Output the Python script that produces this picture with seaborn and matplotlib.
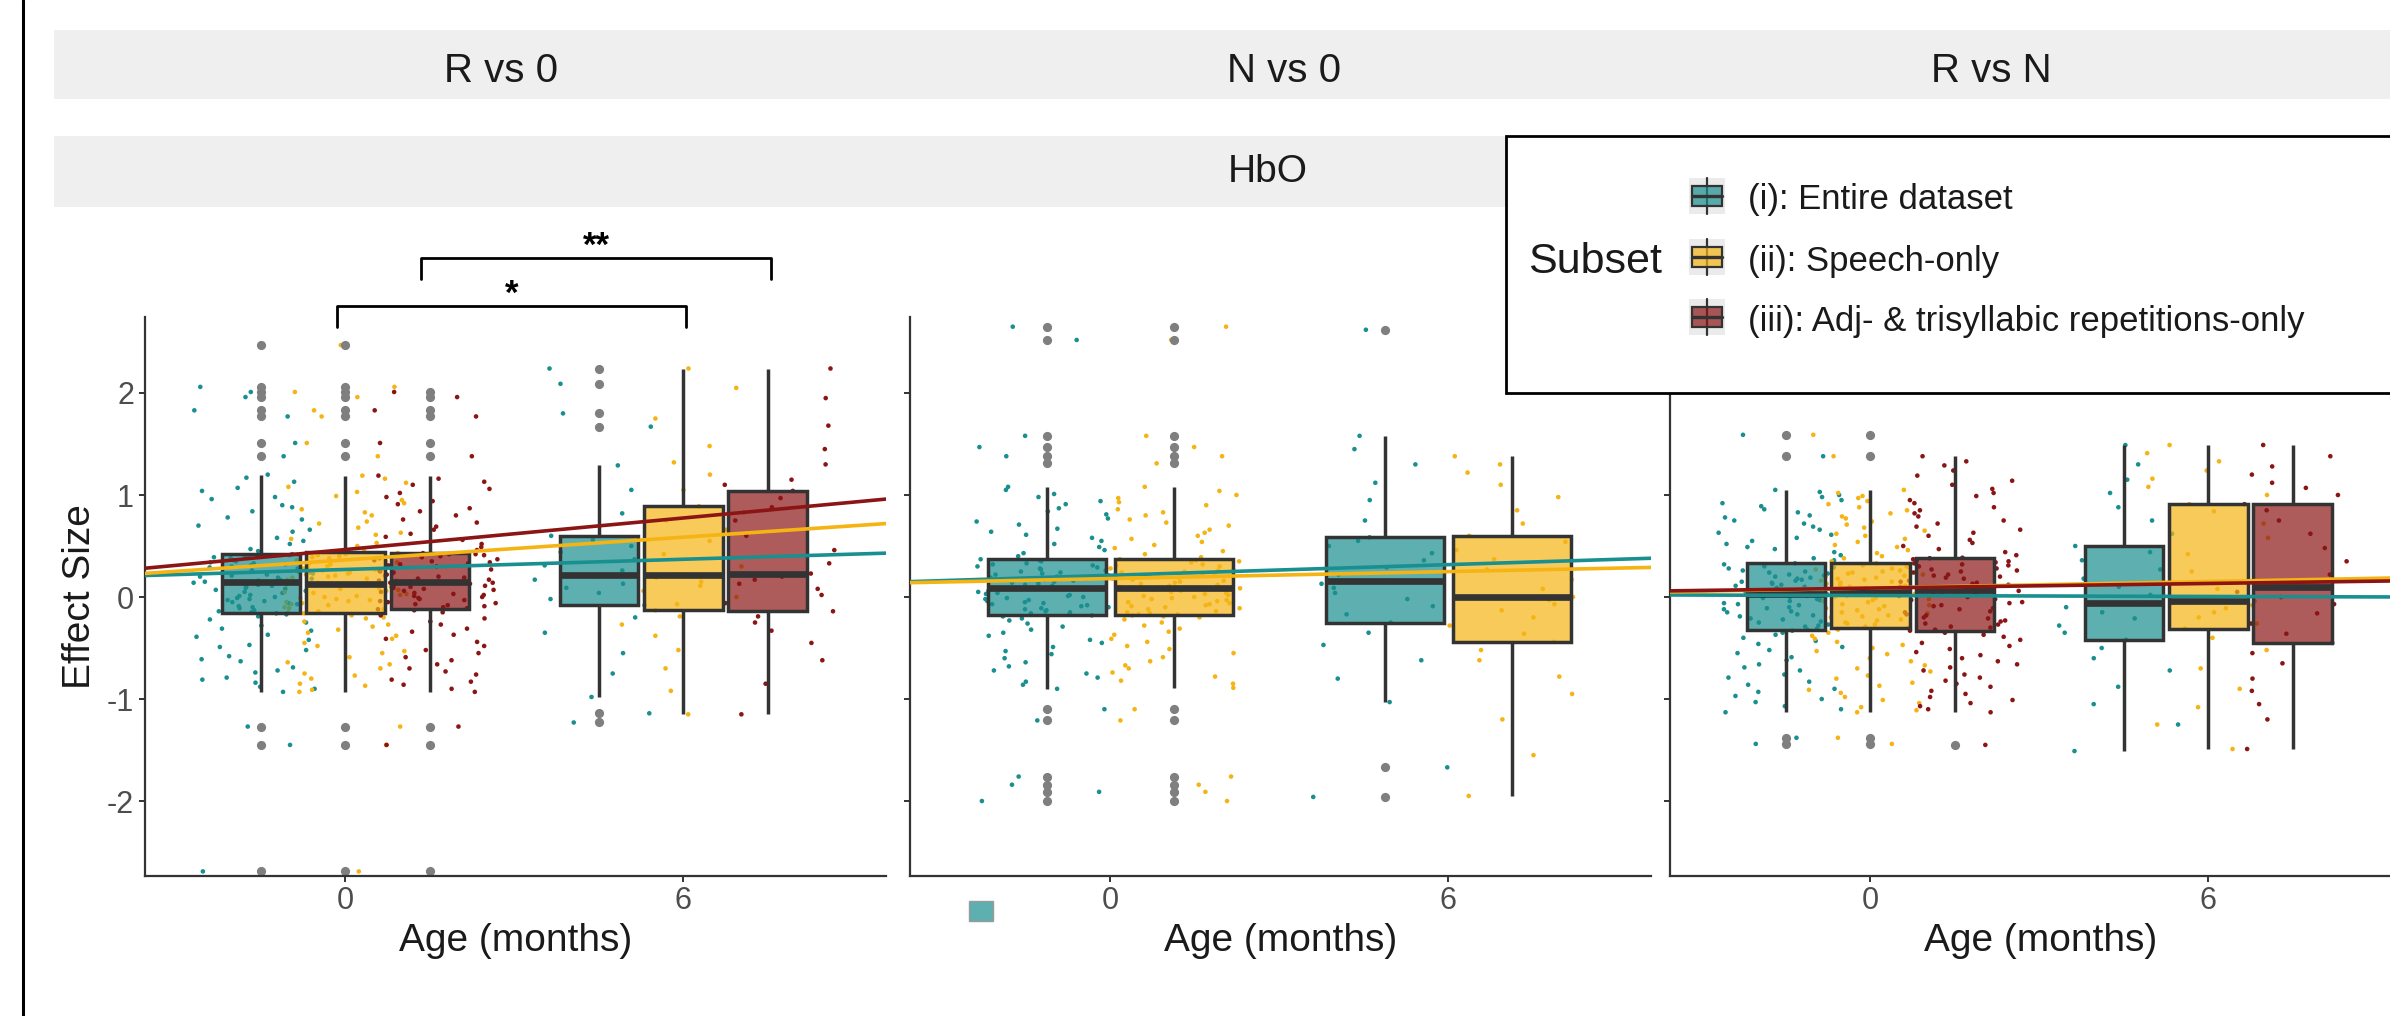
import numpy as np
import pandas as pd
import matplotlib
matplotlib.use("Agg")
import matplotlib.pyplot as plt
import matplotlib.colors as mcolors
from matplotlib.patches import Rectangle
from matplotlib.lines import Line2D
import seaborn as sns

sns.set_theme(style="ticks")
plt.rcParams["font.family"] = ["Liberation Sans", "DejaVu Sans"]
plt.rcParams["axes.unicode_minus"] = False

# ------------------------------------------------------------------ data
subsets = ["(i): Entire dataset", "(ii): Speech-only",
           "(iii): Adj- & trisyllabic repetitions-only"]
subset_colors = ["#1A8F8F", "#F5B414", "#8B1515"]
contrasts = ["R vs 0", "N vs 0", "R vs N"]
signal_label = "HbO"
xtick_values = [0, 6]
ytick_values = [-2, -1, 0, 1, 2]

# R vs 0 -- effect sizes per subset and age (months)
rv0_entire_0 = [-2.69, -1.45, -1.27, -0.93,
                -0.90, -0.88, -0.84, -0.81, -0.79, -0.74, -0.72, -0.69, -0.63, -0.61, -0.58, -0.52,
                -0.49, -0.47, -0.42, -0.39, -0.37, -0.33, -0.31, -0.28, -0.25, -0.22, -0.19, -0.17,
                -0.16,
                -0.15, -0.14, -0.13, -0.11, -0.10, -0.09, -0.07, -0.06, -0.05, -0.04, -0.03, -0.02,
                -0.01, 0.00, 0.01, 0.02, 0.04, 0.05, 0.06, 0.07, 0.08, 0.09, 0.10, 0.11, 0.12, 0.13,
                0.14,
                0.15,
                0.16, 0.16, 0.17, 0.18, 0.19, 0.20, 0.21, 0.22, 0.23, 0.23, 0.24, 0.25, 0.26, 0.28,
                0.29, 0.30, 0.31, 0.32, 0.33, 0.34, 0.35, 0.36, 0.38, 0.39, 0.40, 0.41, 0.41,
                0.42,
                0.45, 0.47, 0.52, 0.55, 0.58, 0.64, 0.66, 0.70, 0.76, 0.78, 0.84, 0.88, 0.90, 0.96,
                0.98, 1.04, 1.07, 1.13, 1.17,
                1.20,
                1.38, 1.51, 1.77, 1.83, 1.96, 2.01, 2.06, 2.47]
rv0_speech_0 = [-2.69, -1.45, -1.27, -0.93,
                -0.91, -0.87, -0.85, -0.80, -0.77, -0.75, -0.70, -0.66, -0.64, -0.59, -0.55, -0.53,
                -0.48, -0.45, -0.41, -0.38, -0.35, -0.32, -0.29, -0.27, -0.24, -0.21, -0.20, -0.18,
                -0.16,
                -0.15, -0.14, -0.12, -0.11, -0.10, -0.08, -0.07, -0.06, -0.05, -0.04, -0.03, -0.02,
                -0.01, 0.00, 0.01, 0.02, 0.03, 0.04, 0.05, 0.06, 0.07, 0.08, 0.09, 0.10, 0.11, 0.12,
                0.12,
                0.13,
                0.14, 0.15, 0.16, 0.17, 0.18, 0.19, 0.20, 0.21, 0.22, 0.23, 0.24, 0.26, 0.27, 0.28,
                0.29, 0.30, 0.32, 0.33, 0.34, 0.35, 0.36, 0.38, 0.39, 0.40, 0.41, 0.42, 0.43,
                0.44,
                0.47, 0.50, 0.53, 0.57, 0.61, 0.63, 0.68, 0.72, 0.74, 0.80, 0.83, 0.86, 0.92, 0.95,
                0.99, 1.03, 1.08, 1.12, 1.16,
                1.19,
                1.38, 1.51, 1.77, 1.83, 1.96, 2.01, 2.06, 2.47]
rv0_adj_0 = [-2.69, -1.45, -1.27, -0.93,
             -0.90, -0.86, -0.83, -0.81, -0.76, -0.73, -0.70, -0.66, -0.62, -0.59, -0.55, -0.52,
             -0.48, -0.44, -0.41, -0.37, -0.34, -0.31, -0.27, -0.24, -0.21, -0.18, -0.15, -0.13,
             -0.12,
             -0.11, -0.10, -0.09, -0.08, -0.07, -0.06, -0.05, -0.04, -0.03, -0.02, -0.01, 0.00,
             0.01, 0.02, 0.03, 0.04, 0.05, 0.06, 0.07, 0.08, 0.09, 0.10, 0.11, 0.12, 0.13, 0.14,
             0.14,
             0.15,
             0.16, 0.17, 0.18, 0.19, 0.20, 0.21, 0.22, 0.23, 0.24, 0.25, 0.26, 0.27, 0.28, 0.30,
             0.31, 0.32, 0.33, 0.34, 0.35, 0.36, 0.37, 0.38, 0.39, 0.40, 0.41, 0.42, 0.42,
             0.43,
             0.46, 0.49, 0.52, 0.56, 0.59, 0.62, 0.66, 0.69, 0.73, 0.76, 0.80, 0.84, 0.87, 0.91,
             0.94, 0.98, 1.02, 1.06, 1.10, 1.13, 1.16,
             1.19,
             1.38, 1.51, 1.77, 1.83, 1.96, 2.01]
rv0_entire_6 = [-1.23, -1.14, -0.98, -0.75, -0.55, -0.35, -0.20, -0.08, -0.02, 0.04, 0.09, 0.13,
                0.17, 0.20, 0.22, 0.26, 0.31, 0.37, 0.44, 0.50, 0.56, 0.60, 0.82, 1.05, 1.29, 1.67,
                1.80, 2.09, 2.24]
rv0_speech_6 = [-1.15, -0.92, -0.70, -0.52, -0.38, -0.27, -0.19, -0.13, -0.07, 0.00, 0.06, 0.11,
                0.15, 0.19, 0.22, 0.30, 0.42, 0.55, 0.66, 0.75, 0.83, 0.89, 1.05, 1.20, 1.32, 1.48,
                1.75, 2.05, 2.24]
rv0_adj_6 = [-1.15, -0.85, -0.62, -0.45, -0.33, -0.25, -0.19, -0.14, -0.06, 0.02, 0.08, 0.13,
             0.17, 0.20, 0.23, 0.33, 0.46, 0.60, 0.75, 0.88, 0.97, 1.04, 1.10, 1.15, 1.30, 1.45,
             1.68, 1.95, 2.24]

# N vs 0
nv0_entire_0 = [-2.00, -1.91, -1.84, -1.76, -1.21, -1.10, -0.90,
                -0.86, -0.83, -0.79, -0.75, -0.72, -0.68, -0.64, -0.60, -0.56, -0.53, -0.49, -0.45,
                -0.42, -0.38, -0.35, -0.32, -0.29, -0.26, -0.23, -0.21, -0.19,
                -0.18,
                -0.17, -0.16, -0.15, -0.14, -0.13, -0.12, -0.11, -0.10, -0.09, -0.08, -0.07, -0.06,
                -0.05, -0.04, -0.03, -0.02, -0.01, 0.00, 0.01, 0.02, 0.03, 0.04, 0.05, 0.06, 0.07,
                0.08, 0.08,
                0.085,
                0.09, 0.10, 0.11, 0.12, 0.13, 0.14, 0.15, 0.16, 0.17, 0.18, 0.19, 0.20, 0.21, 0.22,
                0.23, 0.24, 0.25, 0.26, 0.27, 0.28, 0.29, 0.30, 0.31, 0.32, 0.33, 0.35, 0.36,
                0.37,
                0.40, 0.43, 0.46, 0.49, 0.52, 0.55, 0.58, 0.61, 0.64, 0.67, 0.71, 0.74, 0.77, 0.81,
                0.84, 0.87, 0.91, 0.94, 0.98, 1.01, 1.05,
                1.08,
                1.31, 1.38, 1.47, 1.58, 2.52, 2.65]
nv0_speech_0 = [-2.00, -1.91, -1.84, -1.76, -1.21, -1.10, -0.89,
                -0.85, -0.82, -0.78, -0.74, -0.70, -0.67, -0.63, -0.59, -0.55, -0.51, -0.48, -0.44,
                -0.41, -0.37, -0.34, -0.31, -0.28, -0.25, -0.22, -0.20, -0.19,
                -0.18,
                -0.17, -0.17, -0.16, -0.15, -0.14, -0.12, -0.11, -0.10, -0.09, -0.08, -0.07, -0.06,
                -0.05, -0.04, -0.03, -0.02, -0.01, 0.00, 0.01, 0.02, 0.03, 0.04, 0.05, 0.06, 0.07,
                0.07, 0.08,
                0.085,
                0.09, 0.10, 0.10, 0.11, 0.12, 0.13, 0.14, 0.15, 0.16, 0.17, 0.18, 0.19, 0.20, 0.21,
                0.22, 0.23, 0.24, 0.25, 0.26, 0.27, 0.28, 0.30, 0.31, 0.32, 0.34, 0.35, 0.36,
                0.37,
                0.39, 0.42, 0.45, 0.48, 0.51, 0.54, 0.57, 0.60, 0.63, 0.66, 0.70, 0.73, 0.76, 0.80,
                0.83, 0.86, 0.90, 0.93, 0.97, 1.00, 1.04,
                1.08,
                1.31, 1.38, 1.47, 1.58, 2.52, 2.65]
nv0_entire_6 = [-1.96, -1.67, -1.03, -0.80, -0.62, -0.47, -0.35, -0.25, -0.17, -0.09, -0.02, 0.04,
                0.09, 0.13, 0.16, 0.22, 0.29, 0.36, 0.43, 0.50, 0.55, 0.585, 0.75, 0.95, 1.12, 1.30,
                1.45, 1.58, 2.62]
nv0_speech_6 = [-1.95, -1.55, -1.20, -0.95, -0.78, -0.62, -0.52, -0.44, -0.36, -0.28, -0.20, -0.13,
                -0.07, -0.03, 0.00, 0.08, 0.17, 0.27, 0.37, 0.46, 0.54, 0.60, 0.72, 0.85, 0.98, 1.10,
                1.22, 1.30, 1.38]

# R vs N
rvn_entire_0 = [-1.44, -1.38, -1.13,
                -1.10, -1.07, -1.03, -1.00, -0.97, -0.93, -0.90, -0.86, -0.83, -0.79, -0.76, -0.72,
                -0.69, -0.66, -0.62, -0.59, -0.55, -0.52, -0.49, -0.46, -0.43, -0.40, -0.37, -0.35,
                -0.33,
                -0.32,
                -0.31, -0.29, -0.28, -0.27, -0.25, -0.24, -0.22, -0.21, -0.19, -0.18, -0.17, -0.15,
                -0.14, -0.12, -0.11, -0.10, -0.08, -0.07, -0.06, -0.04, -0.03, -0.02, -0.01, 0.00,
                0.01, 0.02, 0.02,
                0.03,
                0.04, 0.05, 0.06, 0.07, 0.08, 0.09, 0.10, 0.11, 0.12, 0.13, 0.14, 0.15, 0.16, 0.17,
                0.18, 0.19, 0.20, 0.21, 0.22, 0.23, 0.24, 0.25, 0.26, 0.28, 0.29, 0.30, 0.32,
                0.33,
                0.36, 0.38, 0.41, 0.44, 0.47, 0.49, 0.52, 0.55, 0.58, 0.61, 0.63, 0.66, 0.69, 0.72,
                0.75, 0.78, 0.80, 0.83, 0.86, 0.89, 0.92, 0.95, 0.98, 1.00, 1.03,
                1.05,
                1.38, 1.59]
rvn_speech_0 = [-1.44, -1.38, -1.13,
                -1.11, -1.08, -1.04, -1.01, -0.98, -0.94, -0.91, -0.87, -0.84, -0.80, -0.77, -0.73,
                -0.70, -0.67, -0.63, -0.60, -0.56, -0.53, -0.50, -0.47, -0.44, -0.41, -0.38, -0.35,
                -0.32,
                -0.30,
                -0.29, -0.27, -0.26, -0.25, -0.23, -0.22, -0.20, -0.19, -0.18, -0.16, -0.15, -0.13,
                -0.12, -0.11, -0.09, -0.08, -0.07, -0.05, -0.04, -0.03, -0.02, -0.01, 0.00, 0.01,
                0.02, 0.03, 0.04,
                0.05,
                0.06, 0.07, 0.08, 0.09, 0.10, 0.11, 0.12, 0.13, 0.14, 0.15, 0.16, 0.17, 0.18, 0.19,
                0.20, 0.21, 0.22, 0.23, 0.24, 0.25, 0.26, 0.27, 0.28, 0.29, 0.30, 0.31, 0.32,
                0.33,
                0.35, 0.38, 0.40, 0.43, 0.46, 0.49, 0.51, 0.54, 0.57, 0.60, 0.62, 0.65, 0.68, 0.71,
                0.74, 0.77, 0.79, 0.82, 0.85, 0.88, 0.91, 0.94, 0.97, 0.99, 1.02,
                1.05,
                1.38, 1.59]
rvn_adj_0 = [-1.45, -1.13,
             -1.10, -1.07, -1.04, -1.01, -0.98, -0.95, -0.92, -0.88, -0.85, -0.82, -0.79, -0.76,
             -0.72, -0.69, -0.66, -0.63, -0.60, -0.57, -0.54, -0.51, -0.48, -0.45, -0.42, -0.39,
             -0.37, -0.35,
             -0.33,
             -0.32, -0.30, -0.29, -0.27, -0.26, -0.24, -0.23, -0.21, -0.20, -0.18, -0.17, -0.15,
             -0.14, -0.12, -0.11, -0.09, -0.08, -0.06, -0.05, -0.03, -0.02, 0.00, 0.01, 0.03,
             0.04, 0.05, 0.06,
             0.07,
             0.08, 0.09, 0.10, 0.12, 0.13, 0.14, 0.15, 0.16, 0.18, 0.19, 0.20, 0.21, 0.22, 0.24,
             0.25, 0.26, 0.27, 0.28, 0.30, 0.31, 0.32, 0.33, 0.34, 0.35, 0.36, 0.37, 0.38,
             0.385,
             0.41, 0.44, 0.47, 0.50, 0.53, 0.56, 0.60, 0.63, 0.66, 0.69, 0.72, 0.75, 0.79, 0.82,
             0.85, 0.88, 0.92, 0.95, 0.99, 1.02, 1.06, 1.10, 1.14, 1.19, 1.24, 1.29, 1.33,
             1.38]
rvn_entire_6 = [-1.51, -1.25, -1.05, -0.88, -0.72, -0.60, -0.50, -0.42, -0.35, -0.28, -0.21, -0.15,
                -0.10, -0.07, -0.055, 0.02, 0.10, 0.18, 0.27, 0.36, 0.44, 0.50, 0.62, 0.75, 0.88,
                1.02, 1.15, 1.30, 1.49]
rvn_speech_6 = [-1.49, -1.25, -1.08, -0.90, -0.70, -0.52, -0.40, -0.31, -0.26, -0.20, -0.15, -0.11,
                -0.08, -0.06, -0.04, 0.08, 0.25, 0.42, 0.58, 0.72, 0.84, 0.91, 1.00, 1.08, 1.16,
                1.24, 1.33, 1.41, 1.49]
rvn_adj_6 = [-1.49, -1.20, -1.05, -0.92, -0.80, -0.65, -0.55, -0.45, -0.36, -0.26, -0.16, -0.07,
             0.00, 0.05, 0.10, 0.22, 0.35, 0.48, 0.62, 0.75, 0.85, 0.91, 1.00, 1.07, 1.12, 1.20,
             1.28, 1.38, 1.49]

# fitted linear trends (value at the two ends of the age range)
fit_age = [-3.6, 9.6]
rv0_fit_entire = [0.21, 0.43]
rv0_fit_speech = [0.23, 0.72]
rv0_fit_adj = [0.28, 0.96]
nv0_fit_entire = [0.15, 0.38]
nv0_fit_speech = [0.14, 0.29]
rvn_fit_entire = [0.02, 0.00]
rvn_fit_speech = [0.05, 0.19]
rvn_fit_adj = [0.06, 0.16]

# significance annotations (R vs 0 panel)
sig_pairs = [(-0.15, 6.05), (1.35, 7.55)]
sig_heights = [2.85, 3.32]
sig_labels = ["*", "**"]

# ------------------------------------------------------------------ helpers
W, H = 2390, 1016


def fx(px):
    return px / W


def fy(py):
    return 1 - py / H


def long_df(groups):
    rows = []
    for subset, age, vals in groups:
        for v in vals:
            rows.append((subset, age, v))
    return pd.DataFrame(rows, columns=["Subset", "Age", "Effect"])


def fit_df(fits):
    rows = []
    for subset, vals in fits:
        for a, v in zip(fit_age, vals):
            rows.append((subset, a, v))
    return pd.DataFrame(rows, columns=["Subset", "Age", "Fit"])


S1, S2, S3 = subsets
panels = [
    (long_df([(S1, 0, rv0_entire_0), (S2, 0, rv0_speech_0), (S3, 0, rv0_adj_0),
              (S1, 6, rv0_entire_6), (S2, 6, rv0_speech_6), (S3, 6, rv0_adj_6)]),
     fit_df([(S1, rv0_fit_entire), (S2, rv0_fit_speech), (S3, rv0_fit_adj)]),
     [S1, S2, S3], 0.55),
    (long_df([(S1, 0, nv0_entire_0), (S2, 0, nv0_speech_0),
              (S1, 6, nv0_entire_6), (S2, 6, nv0_speech_6)]),
     fit_df([(S1, nv0_fit_entire), (S2, nv0_fit_speech)]),
     [S1, S2], 0.40),
    (long_df([(S1, 0, rvn_entire_0), (S2, 0, rvn_speech_0), (S3, 0, rvn_adj_0),
              (S1, 6, rvn_entire_6), (S2, 6, rvn_speech_6), (S3, 6, rvn_adj_6)]),
     fit_df([(S1, rvn_fit_entire), (S2, rvn_fit_speech), (S3, rvn_fit_adj)]),
     [S1, S2, S3], 0.55),
]

color_map = dict(zip(subsets, subset_colors))
BOX_ALPHA = 0.7
EDGE = "#333333"

np.random.seed(7)
fig = plt.figure(figsize=(W / 100, H / 100), dpi=100)
fig.patch.set_facecolor("white")

# strips
for top, bot in [(30, 99), (136, 207)]:
    fig.add_artist(Rectangle((fx(54), fy(bot)), fx(2400 - 54), (bot - top) / H,
                             transform=fig.transFigure, facecolor="#EFEFEF",
                             edgecolor="none", zorder=1))
for lab, cx in zip(contrasts, [501, 1284, 1991]):
    fig.text(fx(cx), fy(82), lab, ha="center", va="baseline", fontsize=29, color="#1a1a1a", zorder=2)
fig.text(fx(1268), fy(182), signal_label, ha="center", va="baseline", fontsize=28,
         color="#1a1a1a", zorder=2)

# panels
panel_left = [145, 910, 1670]
ax_top, ax_bot, ax_w = 317, 876, 741
axes = []
for i, (df, fdf, present, jit) in enumerate(panels):
    ax = fig.add_axes([fx(panel_left[i]), fy(ax_bot), ax_w / W, (ax_bot - ax_top) / H])
    pal = {s: color_map[s] for s in present}
    sns.stripplot(data=df, x="Age", y="Effect", hue="Subset", hue_order=present, palette=pal,
                  native_scale=True, dodge=True, jitter=jit, size=3.3, linewidth=0,
                  legend=False, ax=ax, zorder=1)
    n0 = len(ax.patches)
    sns.boxplot(data=df, x="Age", y="Effect", hue="Subset", hue_order=present, palette=pal,
                native_scale=True, width=0.75, gap=0.07, saturation=1, linecolor=EDGE,
                linewidth=2.5, fliersize=5.6,
                flierprops=dict(marker="o", markerfacecolor="#7F7F7F", markeredgecolor="#7F7F7F"),
                medianprops=dict(linewidth=4.8, color=EDGE),
                showcaps=False, legend=False, ax=ax)
    for p in ax.patches[n0:]:
        p.set_facecolor(mcolors.to_rgba(p.get_facecolor(), BOX_ALPHA))
    sns.lineplot(data=fdf, x="Age", y="Fit", hue="Subset", hue_order=present, palette=pal,
                 linewidth=2.6, legend=False, ax=ax, zorder=5)

    ax.set_xlim(-3.56, 9.6)
    ax.set_ylim(-2.735, 2.745)
    ax.set_xticks(xtick_values)
    ax.set_xticklabels([str(v) for v in xtick_values])
    ax.set_yticks(ytick_values)
    ax.set_yticklabels([str(v) for v in ytick_values])
    sns.despine(ax=ax)
    for sp in ["left", "bottom"]:
        ax.spines[sp].set_color(EDGE)
        ax.spines[sp].set_linewidth(1.6)
    ax.tick_params(axis="both", direction="out", length=4, width=1.4, color=EDGE,
                   labelsize=22, labelcolor="#4D4D4D")
    ax.tick_params(axis="x", pad=3)
    ax.tick_params(axis="y", pad=4)
    if i > 0:
        ax.tick_params(axis="y", labelleft=False)
        ax.set_ylabel("")
    else:
        ax.set_ylabel("Effect Size", fontsize=28, color="#1a1a1a")
        ax.yaxis.label.set_va("center")
        ax.yaxis.set_label_coords((80 - 145) / ax_w, 0.5)
    ax.set_xlabel("Age (months)", fontsize=28, color="#1a1a1a")
    ax.xaxis.label.set_va("center")
    ax.xaxis.set_label_coords(0.5, -(941 - ax_bot) / (ax_bot - ax_top))
    ax.set_facecolor("none")
    axes.append(ax)

# significance brackets
ax1 = axes[0]
for (x0, x1), h, lab in zip(sig_pairs, sig_heights, sig_labels):
    ax1.plot([x0, x0, x1, x1], [h - 0.2, h, h, h - 0.2], color="black", lw=2.0,
             clip_on=False, zorder=6)
    ax1.text((x0 + x1) / 2, h + 0.02, lab, ha="center", va="baseline", fontsize=25,
             fontweight="bold", color="black", clip_on=False)

# legend (drawn on top of the panels, as in the source figure)
fig.add_artist(Rectangle((fx(1506), fy(393)), fx(2410 - 1506), (393 - 136) / H,
                         transform=fig.transFigure, facecolor="white", edgecolor="black",
                         linewidth=2.0, zorder=10))
fig.text(fx(1528), fy(273), "Subset", ha="left", va="baseline", fontsize=31,
         color="#1a1a1a", zorder=15)
for s, yc, yb in zip(subsets, [196, 257, 317], [209, 271, 331]):
    c = color_map[s]
    fig.add_artist(Rectangle((fx(1689), fy(yc + 18)), 36 / W, 36 / H, transform=fig.transFigure,
                             facecolor="#EBEBEB", edgecolor="none", zorder=11))
    fig.add_artist(Line2D([fx(1707), fx(1707)], [fy(yc - 18), fy(yc + 18)],
                          transform=fig.transFigure, color=EDGE, lw=1.6, zorder=12))
    fig.add_artist(Rectangle((fx(1692), fy(yc + 10)), 30 / W, 20 / H, transform=fig.transFigure,
                             facecolor=mcolors.to_rgba(c, BOX_ALPHA), edgecolor=EDGE,
                             lw=1.6, zorder=13))
    fig.add_artist(Line2D([fx(1692), fx(1722)], [fy(yc), fy(yc)], transform=fig.transFigure,
                          color=EDGE, lw=2.4, zorder=14))
    fig.text(fx(1748), fy(yb), s, ha="left", va="baseline", fontsize=25, color="#1a1a1a",
             zorder=15)

# left border line and stray legend key of the source screenshot
fig.add_artist(Line2D([fx(23), fx(23)], [0, 1], transform=fig.transFigure, color="black",
                      lw=2.2, zorder=20))
fig.add_artist(Rectangle((fx(969), fy(921)), 24 / W, 20 / H, transform=fig.transFigure,
                         facecolor=mcolors.to_rgba(subset_colors[0], BOX_ALPHA),
                         edgecolor="#9A9A9A", lw=1.0, zorder=5))

fig.savefig("out.png", dpi=100, facecolor="white")
